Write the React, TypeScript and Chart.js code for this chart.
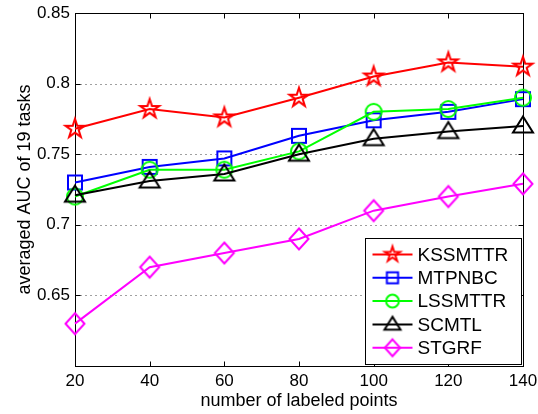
import React, { useEffect, useRef } from 'react';
import { Chart, registerables } from 'chart.js';
Chart.register(...registerables);

const xValues = [20, 40, 60, 80, 100, 120, 140];
const kssmttr = [0.768, 0.782, 0.776, 0.790, 0.805, 0.815, 0.812];
const mtpnbc = [0.730, 0.741, 0.747, 0.763, 0.774, 0.780, 0.789];
const lssmttr = [0.720, 0.739, 0.739, 0.752, 0.780, 0.782, 0.790];
const scmtl = [0.721, 0.731, 0.736, 0.750, 0.761, 0.766, 0.770];
const stgrf = [0.630, 0.670, 0.680, 0.690, 0.710, 0.720, 0.729];
const seriesNames = ['KSSMTTR', 'MTPNBC', 'LSSMTTR', 'SCMTL', 'STGRF'];
const seriesColors = ['#ff0000', '#0000ff', '#00ff00', '#000000', '#ff00ff'];
const markerKinds = ['star', 'square', 'circle', 'triangle', 'diamond'];
const xTicks = [20, 40, 60, 80, 100, 120, 140];
const yTicks = [0.6, 0.65, 0.7, 0.75, 0.8, 0.85];
const yGridValues = [0.65, 0.7, 0.75, 0.8];
const xTitle = 'number of labeled points';
const yTitle = 'averaged AUC of 19 tasks';

const FONT = '"Liberation Sans", Arial, Helvetica, sans-serif';

function makeMarker(kind: string, color: string, scale: number): HTMLCanvasElement {
  const size = 30;
  const c = document.createElement('canvas');
  c.width = size;
  c.height = size;
  const ctx = c.getContext('2d')!;
  ctx.translate(size / 2, size / 2);
  ctx.strokeStyle = color;
  ctx.lineWidth = 2;
  ctx.lineJoin = 'miter';
  ctx.beginPath();
  if (kind === 'star') {
    const R = 10 * scale;
    const r = R * 0.382;
    for (let i = 0; i < 10; i++) {
      const a = -Math.PI / 2 + (i * Math.PI) / 5;
      const rad = i % 2 === 0 ? R : r;
      const px = Math.cos(a) * rad;
      const py = Math.sin(a) * rad;
      if (i === 0) ctx.moveTo(px, py);
      else ctx.lineTo(px, py);
    }
    ctx.closePath();
  } else if (kind === 'square') {
    const h = 7 * scale;
    ctx.rect(-h, -h, 2 * h, 2 * h);
  } else if (kind === 'circle') {
    ctx.arc(0, 0, 8 * scale, 0, Math.PI * 2);
  } else if (kind === 'triangle') {
    const hw = 10 * scale;
    ctx.moveTo(0, -9.5 * scale);
    ctx.lineTo(hw, 6.5 * scale);
    ctx.lineTo(-hw, 6.5 * scale);
    ctx.closePath();
  } else if (kind === 'diamond') {
    const hw = 9.5 * scale;
    const hh = 10.5 * scale;
    ctx.moveTo(0, -hh);
    ctx.lineTo(hw, 0);
    ctx.lineTo(0, hh);
    ctx.lineTo(-hw, 0);
    ctx.closePath();
  }
  ctx.stroke();
  return c;
}

export default function App() {
  const ref = useRef<HTMLCanvasElement>(null);
  useEffect(() => {
    document.body.style.margin = '0';
    const canvas = ref.current!;
    const seriesData = [kssmttr, mtpnbc, lssmttr, scmtl, stgrf];
    const plotMarkers = markerKinds.map((k, i) => makeMarker(k, seriesColors[i], 1));
    const legendMarkers = markerKinds.map((k, i) => makeMarker(k, seriesColors[i], 0.8));

    const framePlugin = {
      id: 'frame',
      beforeDatasetsDraw(chart: any) {
        const { ctx, chartArea, scales } = chart;
        const { left, right, top, bottom } = chartArea;
        const L = Math.round(left) + 0.5;
        const R = Math.round(right) + 0.5;
        const T = Math.round(top) + 0.5;
        const B = Math.round(bottom) + 0.5;
        ctx.save();
        ctx.lineWidth = 1;
        ctx.strokeStyle = '#404040';
        ctx.setLineDash([1, 4]);
        for (const v of yGridValues) {
          const py = Math.round(scales.y.getPixelForValue(v)) + 0.5;
          ctx.beginPath();
          ctx.moveTo(L, py);
          ctx.lineTo(R, py);
          ctx.stroke();
        }
        ctx.setLineDash([]);
        ctx.strokeStyle = '#000';
        const tl = 5;
        for (const v of xTicks) {
          const px = Math.round(scales.x.getPixelForValue(v)) + 0.5;
          ctx.beginPath();
          ctx.moveTo(px, B);
          ctx.lineTo(px, B - tl);
          ctx.moveTo(px, T);
          ctx.lineTo(px, T + tl);
          ctx.stroke();
        }
        for (const v of yTicks) {
          const py = Math.round(scales.y.getPixelForValue(v)) + 0.5;
          ctx.beginPath();
          ctx.moveTo(L, py);
          ctx.lineTo(L + tl, py);
          ctx.moveTo(R, py);
          ctx.lineTo(R - tl, py);
          ctx.stroke();
        }
        ctx.strokeRect(L, T, R - L, B - T);
        ctx.restore();
      },
    };

    const legendPlugin = {
      id: 'customLegend',
      afterDatasetsDraw(chart: any) {
        const { ctx, chartArea } = chart;
        const w = 156;
        const h = 126;
        const bx = Math.round(chartArea.right) - 2 - w + 0.5;
        const by = Math.round(chartArea.bottom) - 2 - h + 0.5;
        ctx.save();
        ctx.fillStyle = '#fff';
        ctx.fillRect(bx, by, w, h);
        ctx.strokeStyle = '#000';
        ctx.lineWidth = 1;
        ctx.strokeRect(bx, by, w, h);
        ctx.font = `19px ${FONT}`;
        ctx.textBaseline = 'middle';
        ctx.textAlign = 'left';
        for (let i = 0; i < seriesNames.length; i++) {
          const cy = by + 16 + i * 23.3;
          ctx.strokeStyle = seriesColors[i];
          ctx.lineWidth = 2;
          ctx.beginPath();
          ctx.moveTo(bx + 7, cy);
          ctx.lineTo(bx + 47, cy);
          ctx.stroke();
          const m = legendMarkers[i];
          ctx.drawImage(m, bx + 27 - m.width / 2, cy - m.height / 2);
          ctx.fillStyle = '#000';
          ctx.fillText(seriesNames[i], bx + 52, cy + 1);
        }
        ctx.restore();
      },
    };

    const chart = new Chart(canvas, {
      type: 'line',
      data: {
        datasets: seriesData.map((vals, i) => ({
          label: seriesNames[i],
          data: xValues.map((x, j) => ({ x, y: vals[j] })),
          borderColor: seriesColors[i],
          backgroundColor: seriesColors[i],
          borderWidth: 2,
          pointStyle: plotMarkers[i] as any,
          pointRadius: 10,
          tension: 0,
          fill: false,
          clip: false as any,
          order: seriesNames.length - 1 - i,
        })),
      },
      options: {
        animation: false,
        responsive: false,
        layout: { padding: { top: 13, right: 15, left: 0, bottom: 0 } },
        plugins: {
          legend: { display: false },
          tooltip: { enabled: false },
        },
        scales: {
          x: {
            type: 'linear',
            min: 20,
            max: 140,
            afterBuildTicks: (s: any) => {
              s.ticks = xTicks.map((v) => ({ value: v }));
            },
            afterFit: (s: any) => {
              s.height = 48;
              s.paddingLeft = 0;
              s.paddingRight = 0;
            },
            grid: { display: false, drawTicks: false, tickLength: 0 },
            border: { display: false },
            ticks: {
              autoSkip: false,
              maxRotation: 0,
              padding: 5,
              color: '#000',
              font: { family: FONT, size: 17 },
              callback: (v: any) => String(v),
            },
            title: {
              display: true,
              text: xTitle,
              color: '#000',
              font: { family: FONT, size: 18 },
              padding: { top: 0, bottom: 2 },
            },
          },
          y: {
            type: 'linear',
            min: 0.6,
            max: 0.85,
            afterBuildTicks: (s: any) => {
              s.ticks = yTicks.map((v) => ({ value: v }));
            },
            afterFit: (s: any) => {
              s.width = 75;
              s.paddingTop = 0;
              s.paddingBottom = 0;
            },
            grid: { display: false, drawTicks: false, tickLength: 0 },
            border: { display: false },
            ticks: {
              autoSkip: false,
              padding: 5,
              color: '#000',
              font: { family: FONT, size: 17 },
              callback: (v: any) => (Math.abs(v - 0.6) < 1e-9 ? '' : String(Number(Number(v).toFixed(2)))),
            },
            title: {
              display: true,
              text: yTitle,
              color: '#000',
              font: { family: FONT, size: 18 },
              padding: { top: 14, bottom: 0 },
            },
          },
        },
      },
      plugins: [framePlugin, legendPlugin],
    });
    return () => chart.destroy();
  }, []);
  return <canvas ref={ref} width={538} height={414} style={{ display: 'block', width: 538, height: 414 }} />;
}
